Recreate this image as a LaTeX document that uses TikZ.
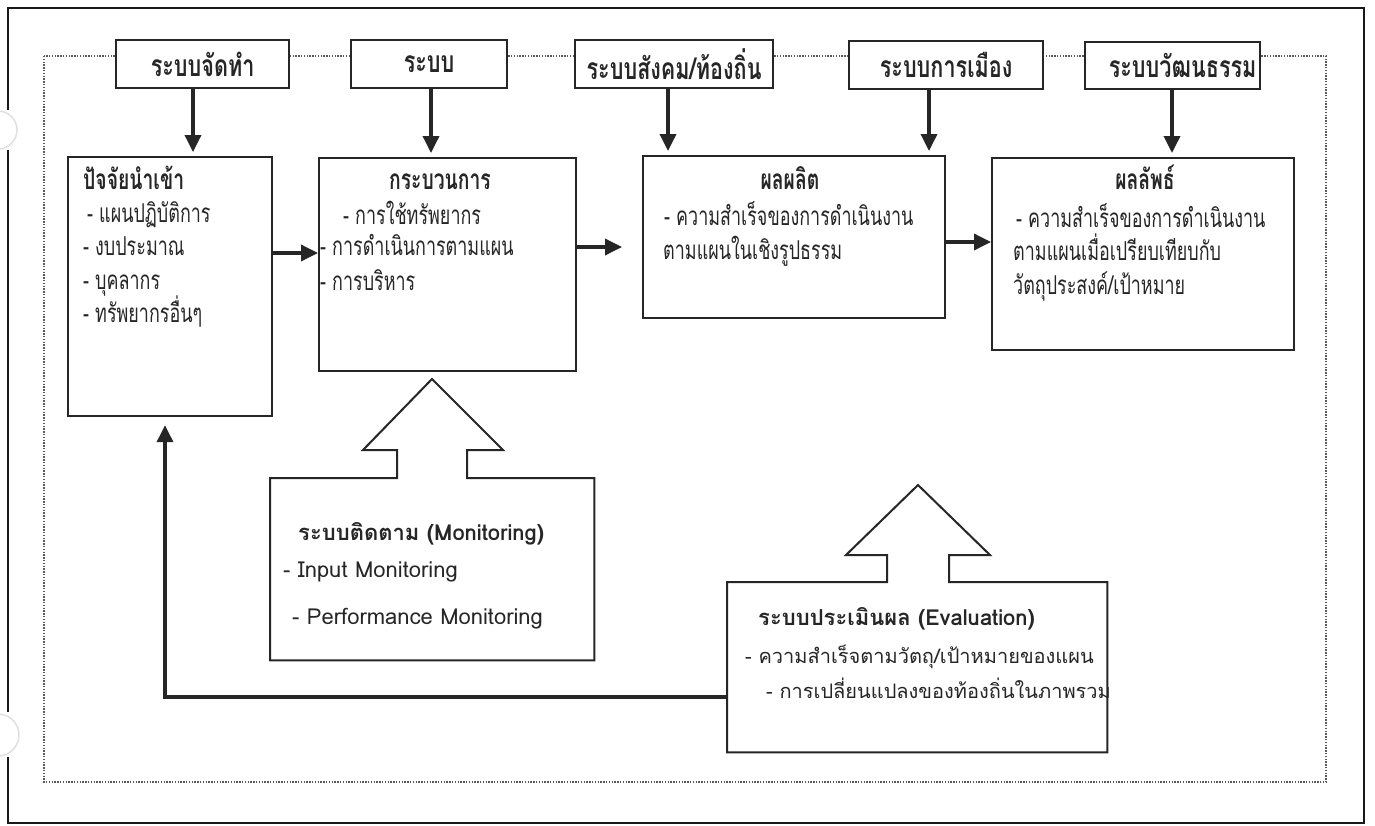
\documentclass[tikz,border=0pt]{standalone}
\usepackage{fontspec}
\newfontfamily\thc[Script=Thai,FakeStretch=0.69]{Loma}
\newfontfamily\thl[Script=Thai,FakeStretch=0.72]{Loma}
\newfontfamily\ths[Script=Thai]{Loma}
\usetikzlibrary{arrows.meta}
\definecolor{ink}{HTML}{262626}
\tikzset{
  frame/.style={draw=black!90, line width=2pt},
  dotframe/.style={draw=black!65, line width=1.2pt, dash pattern=on 1.4pt off 1.4pt},
  lblbox/.style={draw=ink, line width=2.2pt, fill=white, anchor=north west, inner sep=0pt, text=ink, font=\thl\bfseries\fontsize{30}{32}\selectfont},
  mainbox/.style={draw=ink, line width=2.2pt, anchor=north west, inner sep=0pt},
  areabox/.style={anchor=north west, inner sep=0pt},
  outline/.style={draw=ink, line width=2pt, line join=miter},
  arr/.style={draw=ink, line width=3.5pt, -{Triangle[width=16pt,length=17pt]}},
  tx/.style={anchor=base west, inner sep=0pt, text=ink, font=\thc\fontsize{26}{30}\selectfont},
  txb/.style={anchor=base, inner sep=0pt, text=ink, font=\thc\bfseries\fontsize{28}{30}\selectfont},
  txbl/.style={anchor=base west, inner sep=0pt, text=ink, font=\thc\bfseries\fontsize{28}{30}\selectfont},
  sx/.style={anchor=base west, inner sep=0pt, text=ink, font=\ths\fontsize{20}{24}\selectfont},
  sxl/.style={anchor=base west, inner sep=0pt, text=ink, font=\ths\fontsize{22}{24}\selectfont},
  sxb/.style={anchor=base west, inner sep=0pt, text=ink, font=\ths\bfseries\fontsize{22}{24}\selectfont},
  hole/.style={draw=black!12, line width=1.5pt},
}
\begin{document}
\begin{tikzpicture}[x=1pt,y=-1pt]
\useasboundingbox[fill=white] (0,0) rectangle (1375,825);
% outer frame (left side broken by punch holes)
\draw[frame] (8,110) -- (8,8) -- (1364,8) -- (1364,823) -- (8,823) -- (8,757);
\draw[frame] (8,150) -- (8,712);
\draw[hole] (-2,130) circle[radius=19pt];
\draw[hole] (-2,735) circle[radius=21pt];
% dotted frame
\draw[dotframe] (44,56) rectangle (1326,782);
% label boxes
\node[lblbox, minimum width=173pt, minimum height=48pt] (L1) at (115,39) {ระบบจัดทำ};
\node[lblbox, minimum width=156pt, minimum height=48pt] (L2) at (350,39) {ระบบ};
\node[lblbox, minimum width=198pt, minimum height=48pt] (L3) at (574,39) {ระบบสังคม/ท้องถิ่น};
\node[lblbox, minimum width=194pt, minimum height=48pt] (L4) at (848,40) {ระบบการเมือง};
\node[lblbox, minimum width=175pt, minimum height=47pt] (L5) at (1084,41) {\hspace*{20pt}ระบบวัฒนธรรม};
% main boxes
\node[mainbox, minimum width=204pt, minimum height=259pt] (A) at (67,156) {};
\node[mainbox, minimum width=257pt, minimum height=213pt] (B) at (318,157) {};
\node[mainbox, minimum width=302pt, minimum height=162pt] (C) at (642,155) {};
\node[mainbox, minimum width=302pt, minimum height=192pt] (D) at (991,157) {};
% texts box A
\node[txbl] (At) at (83,189) {ปัจจัยนำเข้า};
\node[tx] (A1) at (87,222) {- แผนปฏิบัติการ};
\node[tx] (A2) at (83,255) {- งบประมาณ};
\node[tx] (A3) at (83,289) {- บุคลากร};
\node[tx] (A4) at (83,322) {- ทรัพยากรอื่นๆ};
% texts box B
\node[txb] (Bt) at (440,189) {กระบวนการ};
\node[tx] (B1) at (343,224) {- การใช้ทรัพยากร};
\node[tx] (B2) at (320,255) {- การดำเนินการตามแผน};
\node[tx] (B3) at (320,290) {- การบริหาร};
% texts box C
\node[txb] (Ct) at (790,189) {ผลผลิต};
\node[tx] (C1) at (664,225) {- ความสำเร็จของการดำเนินงาน};
\node[tx] (C2) at (663,259) {ตามแผนในเชิงรูปธรรม};
% texts box D
\node[txb] (Dt) at (1145,189) {ผลลัพธ์};
\node[tx] (D1) at (1016,227) {- ความสำเร็จของการดำเนินงาน};
\node[tx] (D2) at (1013,260) {ตามแผนเมื่อเปรียบเทียบกับ};
\node[tx] (D3) at (1013,294) {วัตถุประสงค์/เป้าหมาย};
% down arrows from label boxes
\draw[arr, shorten >=4pt] (L1.south -| 193,0) -- (A.north -| 193,0);
\draw[arr, shorten >=4pt] (L2.south -| 431,0) -- (B.north -| 431,0);
\draw[arr, shorten >=4pt] (L3.south -| 668,0) -- (C.north -| 668,0);
\draw[arr, shorten >=4pt] (L4.south -| 929,0) -- (C.north -| 929,0);
\draw[arr, shorten >=4pt] (L5.south -| 1172,0) -- (D.north -| 1172,0);
% horizontal arrows
\draw[arr] (A.east |- 0,253) -- (B.west |- 0,253);
\draw[arr, shorten >=20pt] (B.east |- 0,247) -- (C.west |- 0,247);
\draw[arr] (C.east |- 0,242) -- (D.west |- 0,242);
% monitoring block arrow
\node[areabox, minimum width=324pt, minimum height=182pt] (M) at (270,478) {};
\draw[outline] (M.north west) -- (397,478) -- (397,450) -- (363,450) -- (432,379) -- (503,450) -- (467,450) -- (467,478) -- (M.north east) -- (M.south east) -- (M.south west) -- cycle;
\node[sxb] (Mt) at (298,540) {ระบบติดตาม (Monitoring)};
\node[sxl] (M1) at (283,577) {- Input Monitoring};
\node[sxl] (M2) at (292,624) {- Performance Monitoring};
% evaluation block arrow
\node[areabox, minimum width=380pt, minimum height=170pt] (E) at (727,582) {};
\draw[outline] (E.north west) -- (887,582) -- (887,555) -- (846,555) -- (918,485) -- (990,555) -- (949,555) -- (949,582) -- (E.north east) -- (E.south east) -- (E.south west) -- cycle;
\node[sxb] (Et) at (758,625) {ระบบประเมินผล (Evaluation)};
\node[sx] (E1) at (745,663) {- ความสำเร็จตามวัตถุ/เป้าหมายของแผน};
\node[sx] (E2) at (766,698) {- การเปลี่ยนแปลงของท้องถิ่นในภาพรวม};
% feedback arrow
\draw[arr, shorten >=8pt] (E.west |- 0,697) -| (A.south -| 165,0);
\end{tikzpicture}
\end{document}
